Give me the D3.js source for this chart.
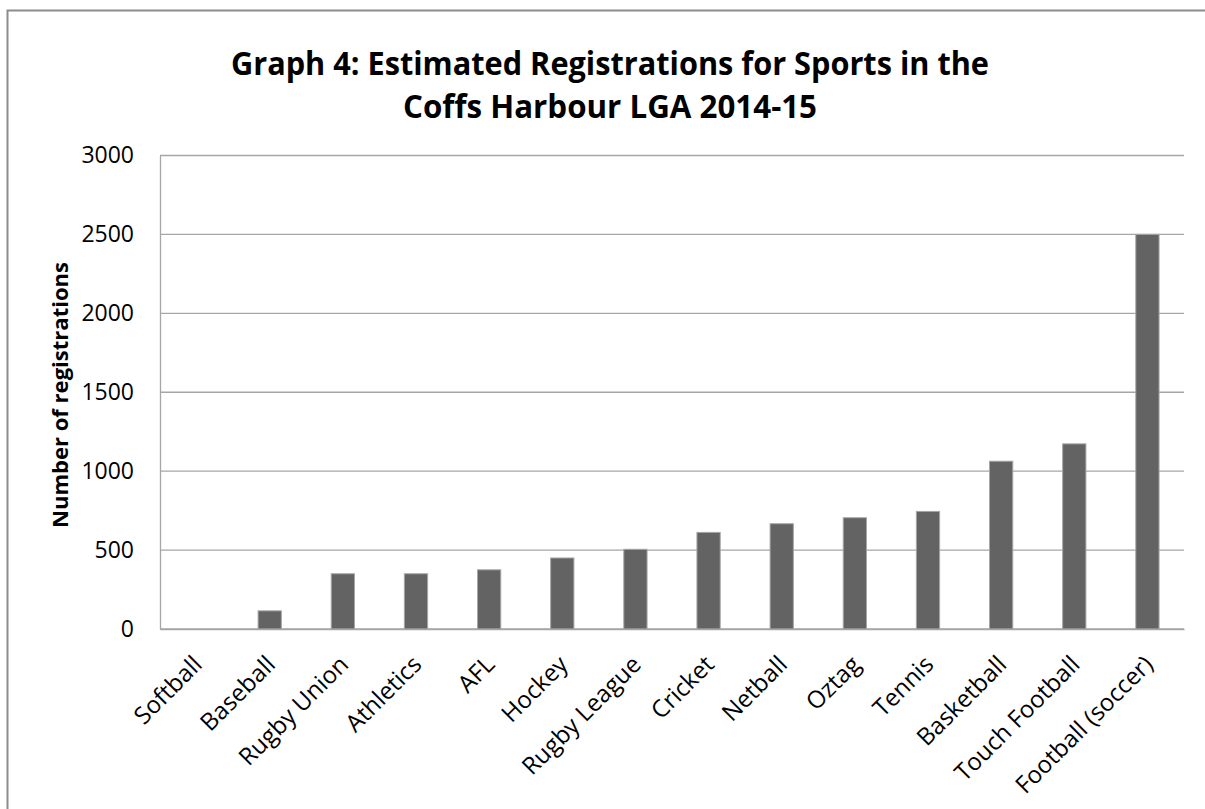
<!DOCTYPE html>
<html>
<head>
<meta charset="utf-8">
<script src="https://cdn.jsdelivr.net/npm/d3@7"></script>
<style>
  body { margin: 0; background: #fff; }
  text { font-family: "Open Sans", sans-serif; fill: #000; }
</style>
</head>
<body>
<div id="chart"></div>
<script>
'use strict';

let sports = ['Softball', 'Baseball', 'Rugby Union', 'Athletics', 'AFL', 'Hockey', 'Rugby League',
	'Cricket', 'Netball', 'Oztag', 'Tennis', 'Basketball', 'Touch Football', 'Football (soccer)'];
let registrations = [0, 115, 350, 350, 375, 450, 505, 612, 667, 705, 745, 1063, 1173, 2500];
let yTicks = [0, 500, 1000, 1500, 2000, 2500, 3000];
let titleLines = ['Graph 4: Estimated Registrations for Sports in the', 'Coffs Harbour LGA 2014-15'];

let data = sports.map((s, i) => ({sport: s, value: registrations[i]}));

let svg = d3.select('div#chart').append('svg')
	.attr('width', 1205)
	.attr('height', 809);

// outer chart border (left and top only visible)
svg.append('path')
	.attr('d', 'M7.5,809 V10.5 H1205')
	.attr('fill', 'none')
	.attr('stroke', '#8c8c8c')
	.attr('stroke-width', 2);

let x = d3.scaleBand()
	.domain(sports)
	.range([160, 1184]);

let y = d3.scaleLinear()
	.domain([0, 3000])
	.range([629, 155.5]);

// gridlines
svg.append('g')
	.selectAll('line.grid')
	.data(yTicks)
	.join('line')
	.classed('grid', true)
	.attr('x1', 160)
	.attr('x2', 1184)
	.attr('y1', d => y(d))
	.attr('y2', d => y(d))
	.attr('stroke', '#a6a6a6')
	.attr('stroke-width', 1.3);

// y axis
let yAxis = svg.append('g')
	.attr('transform', 'translate(160,0)')
	.call(d3.axisLeft(y).tickValues(yTicks).tickFormat(d3.format('d')).tickSize(0).tickPadding(26));
yAxis.select('.domain').attr('stroke', '#a6a6a6').attr('stroke-width', 1.3);
yAxis.selectAll('text')
	.style('font-family', '"Open Sans", sans-serif')
	.style('font-size', '23px')
	.attr('fill', '#000');

// bars
let barW = x.bandwidth() * 0.318;
svg.selectAll('rect.bar')
	.data(data, d => d.sport)
	.join('rect')
	.classed('bar', true)
	.attr('x', d => x(d.sport) + (x.bandwidth() - barW) / 2)
	.attr('y', d => y(d.value))
	.attr('width', barW)
	.attr('height', d => y(0) - y(d.value))
	.attr('fill', '#636363')
	.attr('stroke', d => d.value > 0 ? '#a6a6a6' : 'none')
	.attr('stroke-width', 1);

// x axis
let xAxis = svg.append('g')
	.attr('transform', 'translate(0,629)')
	.call(d3.axisBottom(x).tickSize(0).tickPadding(0));
xAxis.select('.domain').attr('stroke', '#a6a6a6').attr('stroke-width', 1.3);
xAxis.selectAll('text')
	.style('font-family', '"Open Sans", sans-serif')
	.style('font-size', '24px')
	.attr('fill', '#000')
	.attr('text-anchor', 'end')
	.attr('dy', 0)
	.attr('y', 0)
	.attr('transform', 'translate(7,37) rotate(-45)');

// title
svg.append('g')
	.selectAll('text.title')
	.data(titleLines)
	.join('text')
	.classed('title', true)
	.attr('x', 610)
	.attr('y', (d, i) => 75 + i * 43)
	.attr('text-anchor', 'middle')
	.style('font-weight', 'bold')
	.style('font-size', '32px')
	.attr('textLength', (d, i) => i === 0 ? 758 : 414)
	.attr('lengthAdjust', 'spacingAndGlyphs')
	.text(d => d);

// axis title
svg.append('text')
	.attr('transform', 'translate(68,395) rotate(-90)')
	.attr('text-anchor', 'middle')
	.style('font-weight', 'bold')
	.style('font-size', '21px')
	.attr('textLength', 266)
	.attr('lengthAdjust', 'spacingAndGlyphs')
	.text('Number of registrations');
</script>
</body>
</html>
